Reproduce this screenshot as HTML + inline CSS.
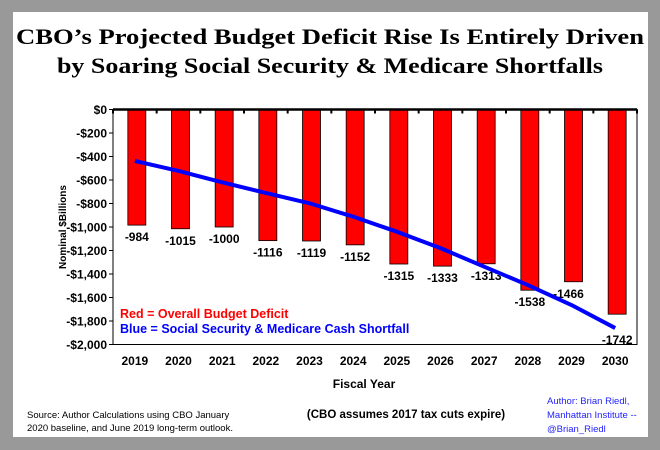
<!DOCTYPE html>
<html><head><meta charset="utf-8"><style>
body{margin:0;background:#999;}
svg{display:block;font-family:"Liberation Sans",Arial,sans-serif;}
</style></head><body>
<svg id="chart" width="660" height="450" viewBox="0 0 660 450">
<rect x="0" y="0" width="660" height="450" fill="#999"/>
<rect x="13" y="12" width="635" height="425" fill="#fff"/>
<text x="330" y="44" text-anchor="middle" font-family="Liberation Serif,serif" font-weight="bold" font-size="22" textLength="628" lengthAdjust="spacingAndGlyphs">CBO’s Projected Budget Deficit Rise Is Entirely Driven</text>
<text x="330" y="73" text-anchor="middle" font-family="Liberation Serif,serif" font-weight="bold" font-size="22" textLength="546" lengthAdjust="spacingAndGlyphs">by Soaring Social Security &amp; Medicare Shortfalls</text>
<g id="plot"></g>
<text x="0" y="0" transform="translate(66,227) rotate(-90)" text-anchor="middle" font-size="10" font-weight="bold">Nominal $Billions</text>
<text x="364" y="388" text-anchor="middle" font-size="12" font-weight="bold">Fiscal Year</text>
<text x="120" y="318" fill="#f00" font-size="12.5" font-weight="bold">Red = Overall Budget Deficit</text>
<text x="120" y="333" fill="#00f" font-size="12.5" font-weight="bold">Blue = Social Security &amp; Medicare Cash  Shortfall</text>
<text x="27" y="418" font-size="9.5">Source: Author Calculations using CBO January</text>
<text x="27" y="431" font-size="9.5">2020 baseline, and June 2019 long-term outlook.</text>
<text x="406" y="418" text-anchor="middle" font-size="11.5" font-weight="bold">(CBO assumes 2017 tax cuts expire)</text>
<text x="547" y="404" fill="#22f" font-size="9.5">Author: Brian Riedl,</text>
<text x="547" y="418" fill="#22f" font-size="9.5">Manhattan Institute --</text>
<text x="547" y="432" fill="#22f" font-size="9.5">@Brian_Riedl</text>
</svg>
<script>
const years=["2019","2020","2021","2022","2023","2024","2025","2026","2027","2028","2029","2030"];
const deficit=[-984,-1015,-1000,-1116,-1119,-1152,-1315,-1333,-1313,-1538,-1466,-1742];
const shortfall=[-438,-523,-620,-710,-798,-912,-1040,-1180,-1338,-1494,-1664,-1860];
const yTicks=[0,-200,-400,-600,-800,-1000,-1200,-1400,-1600,-1800,-2000];
const yTickLabels=["$0","-$200","-$400","-$600","-$800","-$1,000","-$1,200","-$1,400","-$1,600","-$1,800","-$2,000"];
const NS="http://www.w3.org/2000/svg";
const L=113,R=637,T=109.5,B=344.5;
const step=(R-L)/years.length;
const xc=i=>L+step*(i+0.5);
const y=v=>T+(0-v)/(0+2000)*(B-T);
const g=document.getElementById('plot');
function mk(tag,attrs){const e=document.createElementNS(NS,tag);for(const k in attrs)e.setAttribute(k,attrs[k]);g.appendChild(e);return e;}
let e=mk('rect',{x:L,y:T,width:R-L,height:B-T,fill:'none',stroke:'#000','stroke-width':1});


yTicks.forEach((t,i)=>{
  const l=mk('line',{x1:L-4,x2:L,y1:y(t),y2:y(t),stroke:'#000'});
  
  
  const tx=mk('text',{x:L-6,y:y(t)+4.5,'text-anchor':'end','font-size':12,'font-weight':'bold'});
  tx.textContent=yTickLabels[i];
  
  
});
deficit.forEach((v,i)=>{
  const bw=18;
  const r=mk('rect',{x:xc(i)-bw/2+2,y:y(0),width:bw,height:y(v)-y(0),fill:'#f00',stroke:'#000','stroke-width':0.8});
  
  
  const yr=mk('text',{x:xc(i),y:365,'text-anchor':'middle','font-size':12,'font-weight':'bold'});
  yr.textContent=years[i];
  
  
  let ly=y(v)+16, lx=xc(i)+2;
  if(i===years.length-1){ly=y(v)+30;}
  if(i===10){lx-=5;}
  const lb=mk('text',{x:lx,y:ly,'text-anchor':'middle','font-size':12,'font-weight':'bold'});
  lb.textContent=String(v);
  
  
});
const ax=mk('line',{x1:L,x2:R,y1:y(0),y2:y(0),stroke:'#000','stroke-width':2.5});


for(let i=0;i<=years.length;i++){
  const tk=mk('rect',{x:L+step*i-1,y:y(0),width:2,height:4,fill:'#000'});
  
  
}
const pl=mk('polyline',{points:shortfall.map((v,i)=>xc(i)+','+y(v)).join(' '),fill:'none',stroke:'#00f','stroke-width':4,'stroke-linejoin':'round'});


</script>
</body></html>
